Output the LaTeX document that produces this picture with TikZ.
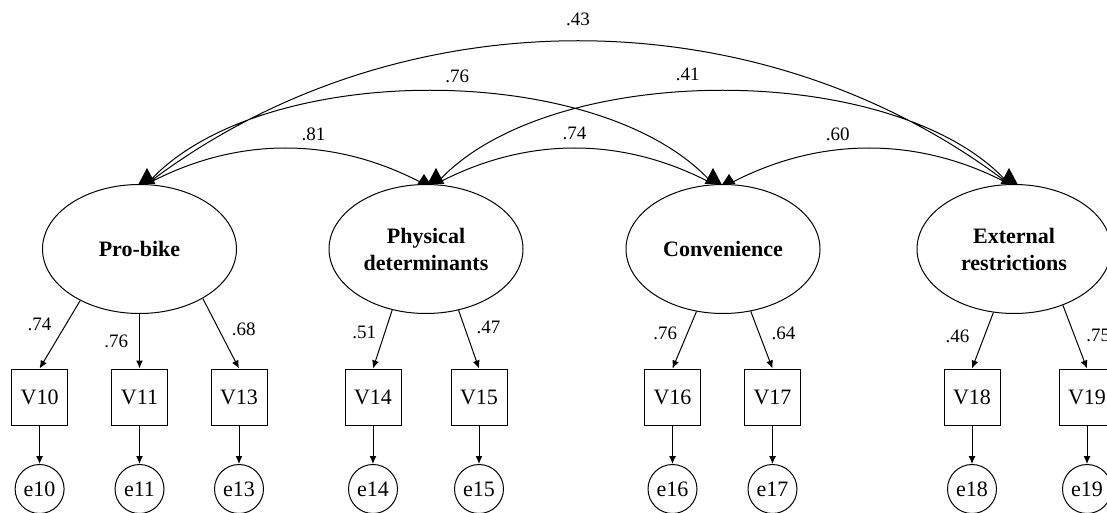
\documentclass[tikz,border=0pt]{standalone}
\usepackage{fontspec}
\setmainfont{Liberation Serif}
\usetikzlibrary{arrows.meta, positioning, shapes.geometric}
\tikzset{
    x=0.5pt, y=0.5pt, % eine einheit = ein pixel der vorlage
    latent/.style={ % latente variablen
        ellipse, draw, inner sep=0pt,
        minimum width=97pt, minimum height=64.5pt,
        align=center, font=\fontsize{11}{13.5}\selectfont\bfseries
    },
    observed/.style={ % indikatoren
        rectangle, draw, inner sep=0pt, minimum size=28pt,
        font=\fontsize{11}{13}\selectfont
    },
    error/.style={ % fehlerterme
        circle, draw, inner sep=0pt, minimum size=24.5pt,
        font=\fontsize{11}{13}\selectfont
    },
    coef/.style={font=\fontsize{9.5}{11}\selectfont, inner sep=2pt},
    load/.style={->, >={Latex[length=4pt,width=3.5pt]}},
    bighead/.pic={\fill (0,16) -- (-8.5,0) -- (8.5,0) -- cycle;},
    smallhead/.pic={\fill (0,10) -- (-6.5,0) -- (6.5,0) -- cycle;}
}
\begin{document}
\begin{tikzpicture}[node distance=19.25pt, line width=0.5pt]
    \useasboundingbox (0,0) rectangle (1107,-513);
    % latente variablen
    \node[latent] (pb) at (139.5,-249) {Pro-bike};
    \node[latent] (pd) at (426,-249)   {Physical\\determinants};
    \node[latent] (cv) at (723,-249)   {Convenience};
    \node[latent] (er) at (1014,-249)  {External\\restrictions};
    % indikatoren
    \node[observed] (v10) at (39.6,-397)  {V10};
    \node[observed] (v11) at (139.5,-397) {V11};
    \node[observed] (v13) at (239,-397)   {V13};
    \node[observed] (v14) at (373,-397)   {V14};
    \node[observed] (v15) at (479,-397)   {V15};
    \node[observed] (v16) at (672.5,-397) {V16};
    \node[observed] (v17) at (772.5,-397) {V17};
    \node[observed] (v18) at (972,-397)   {V18};
    \node[observed] (v19) at (1087,-397)  {V19};
    % fehlerterme
    \foreach \i in {10,11,13,14,15,16,17,18,19}
        \node[error, below=of v\i] (e\i) {e\i};

    % ladungen
    \path[load]
        (pb.221) edge node[coef, pos=0.35, left=5pt]  {.74} (v10.north)
        (pb)     edge node[coef, pos=0.5,  left=3.5pt] {.76} (v11)
        (pb.322) edge node[coef, pos=0.44, right=4.3pt] {.68} (v13.north)
        (pd.241) edge node[coef, pos=0.39, left=2pt]  {.51} (v14.north)
        (pd.298) edge node[coef, pos=0.29, right=3.8pt] {.47} (v15.north)
        (cv.247) edge node[coef, pos=0.39, left=2.7pt] {.76} (v16.north)
        (cv.294) edge node[coef, pos=0.39, right=4pt] {.64} (v17.north)
        (er.252) edge node[coef, pos=0.42, left=5.3pt] {.46} (v18.north)
        (er.311) edge node[coef, pos=0.47, right=3.8pt] {.75} (v19.north)
    ;
    \foreach \i in {10,11,13,14,15,16,17,18,19}
        \draw[load] (v\i) -- (e\i);

    % kovarianzen
    \coordinate (pb-t)  at ([xshift=3.75pt]pb.north);
    \coordinate (pd-t1) at ([xshift=-1pt]pd.north);
    \coordinate (pd-t2) at ([xshift=5pt]pd.north);
    \coordinate (cv-t1) at ([xshift=-5pt]cv.north);
    \coordinate (cv-t2) at ([xshift=3pt]cv.north);
    \coordinate (er-t)  at ([xshift=-2.5pt]er.north);
    \draw
        (pb-t)  .. controls +(90,48) and +(-90,48)
                .. node[coef, pos=0.6, above=2pt] {.81} (pd-t1)
        (pd-t2) .. controls +(90,48) and +(-90,48)
                .. node[coef, pos=0.5, above=2pt] {.74} (cv-t1)
        (cv-t2) .. controls +(90,48) and +(-90,48)
                .. node[coef, pos=0.39, above=2pt] {.60} (er-t)
        (pb-t)  .. controls +(110,125) and +(-110,125)
                .. node[coef, pos=0.54, above=2pt] {.76} (cv-t1)
        (pd-t2) .. controls +(110,125) and +(-110,125)
                .. node[coef, pos=0.45, above=3pt] {.41} (er-t)
        (pb-t)  .. controls +(250,191) and +(-250,191)
                .. node[coef, pos=0.5, above=5pt] {.43} (er-t)
    ;
    \foreach \c in {pb-t, pd-t2, cv-t1, er-t}
        \pic at (\c) {bighead};
    \foreach \c in {pd-t1, cv-t2}
        \pic at (\c) {smallhead};
\end{tikzpicture}
\end{document}
